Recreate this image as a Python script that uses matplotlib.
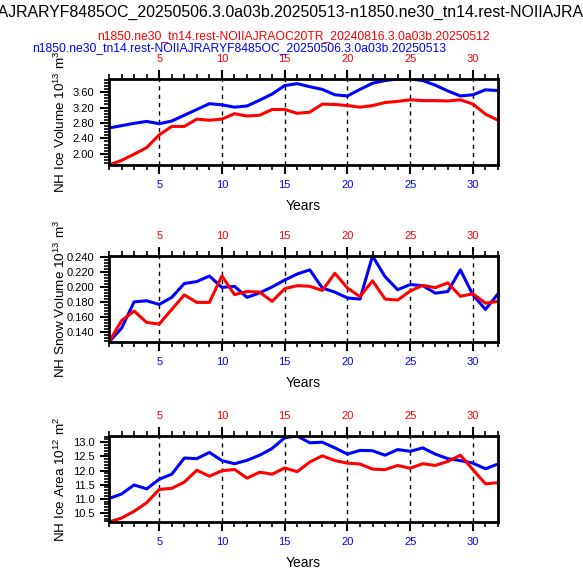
import numpy as np
import matplotlib
matplotlib.use("Agg")
import matplotlib.pyplot as plt
from matplotlib.ticker import MultipleLocator

plt.rcParams['font.family'] = ['Liberation Sans', 'DejaVu Sans']
plt.rcParams['mathtext.default'] = 'regular'

years = np.arange(1, 33)

ice_vol_blue = [2.67, 2.73, 2.79, 2.84, 2.78, 2.85, 3.00, 3.15, 3.30, 3.27, 3.21, 3.24, 3.39, 3.55, 3.77, 3.82,
                3.74, 3.67, 3.53, 3.50, 3.67, 3.83, 3.90, 3.94, 3.94, 3.90, 3.78, 3.63, 3.50, 3.53, 3.66, 3.64]
ice_vol_red = [1.71, 1.83, 1.99, 2.16, 2.49, 2.71, 2.71, 2.90, 2.87, 2.90, 3.04, 2.98, 3.00, 3.15, 3.15, 3.05,
               3.08, 3.29, 3.28, 3.25, 3.21, 3.25, 3.33, 3.36, 3.40, 3.38, 3.38, 3.37, 3.40, 3.29, 3.03, 2.87]

snow_blue = [0.1267, 0.145, 0.180, 0.1815, 0.1766, 0.186, 0.2044, 0.207, 0.2144, 0.1993, 0.2007, 0.186, 0.192,
             0.1999, 0.209, 0.2171, 0.2226, 0.1985, 0.193, 0.1852, 0.1838, 0.241, 0.2135, 0.1962, 0.203, 0.2016,
             0.1916, 0.1938, 0.2226, 0.1893, 0.170, 0.1907]
snow_red = [0.1267, 0.155, 0.1678, 0.1527, 0.1505, 0.170, 0.1893, 0.1793, 0.1793, 0.2144, 0.1897, 0.1938, 0.193,
            0.1807, 0.1975, 0.2016, 0.2007, 0.1952, 0.2181, 0.1985, 0.187, 0.208, 0.1838, 0.1825, 0.1944, 0.202,
            0.1989, 0.2053, 0.1875, 0.1907, 0.1783, 0.1807]

area_blue = [11.01, 11.17, 11.49, 11.35, 11.69, 11.87, 12.44, 12.42, 12.64, 12.35, 12.24, 12.36, 12.54, 12.78,
             13.16, 13.22, 12.98, 13.00, 12.80, 12.58, 12.71, 12.70, 12.54, 12.74, 12.68, 12.80, 12.58, 12.42,
             12.35, 12.26, 12.06, 12.23]
area_red = [10.18, 10.32, 10.56, 10.86, 11.33, 11.37, 11.59, 12.01, 11.80, 11.99, 12.04, 11.73, 11.94, 11.87,
            12.09, 11.96, 12.30, 12.52, 12.35, 12.26, 12.23, 12.05, 12.03, 12.18, 12.08, 12.24, 12.18, 12.32,
            12.54, 12.03, 11.53, 11.57]

case_blue = "n1850.ne30_tn14.rest-NOIIAJRARYF8485OC_20250506.3.0a03b.20250513"
case_red = "n1850.ne30_tn14.rest-NOIIAJRAOC20TR_20240816.3.0a03b.20250512"
title = case_blue + "-" + case_red

panels = [
    (ice_vol_blue, ice_vol_red, "NH Ice Volume 10$^{13}$ m$^3$", 0.4, 0.08, "%.2f", 165),
    (snow_blue, snow_red, "NH Snow Volume 10$^{13}$ m$^3$", 0.02, 0.004, "%.3f", 342),
    (area_blue, area_red, "NH Ice Area 10$^{12}$ m$^2$", 0.5, 0.1, "%.1f", 522),
]

W, H = 583, 571
fig = plt.figure(figsize=(W / 100, H / 100), dpi=100)

# the long title runs past both edges, as in the original
fig.text(-194 / W, 1 - 17 / H, title, fontsize=11.4, ha='left', va='baseline')
fig.text(293.5 / W, 1 - 39 / H, case_red, fontsize=8.7, color='red', ha='center', va='baseline')
fig.text(32 / W, 1 - 51 / H, case_blue, fontsize=8.7, color='blue', ha='left', va='baseline')

for blue, red, ylab, major, minor, fmt, bottom_px in panels:
    ax = fig.add_axes([109 / W, 1 - bottom_px / H, 389 / W, 86 / H])
    for xv in range(5, 31, 5):
        ax.axvline(xv, color='black', linestyle=(0, (3, 3)), linewidth=1)
    ax.plot(years, blue, color='blue', linewidth=2.2)
    ax.plot(years, red, color='red', linewidth=2.2)
    ax.set_xlim(1, 32)
    ax.set_ylim(min(min(blue), min(red)), max(max(blue), max(red)))

    ax.xaxis.set_major_locator(MultipleLocator(5))
    ax.xaxis.set_minor_locator(MultipleLocator(1))
    ax.yaxis.set_major_locator(MultipleLocator(major))
    ax.yaxis.set_minor_locator(MultipleLocator(minor))
    ax.yaxis.set_major_formatter(matplotlib.ticker.FormatStrFormatter(fmt))
    ax.tick_params(axis='both', which='major', direction='out', length=6.5, width=1.5,
                   labelsize=8, pad=4)
    ax.tick_params(axis='both', which='minor', direction='out', length=3.6, width=1.2)
    ax.tick_params(axis='x', top=True, which='both', labelcolor='blue')
    ax.tick_params(axis='y', right=False, which='both')
    for s in ax.spines.values():
        s.set_linewidth(2)

    top = ax.secondary_xaxis('top')
    top.xaxis.set_major_locator(MultipleLocator(5))
    top.tick_params(axis='x', which='major', direction='out', length=0, labelsize=8,
                    labelcolor='red', pad=10.5)
    top.spines['top'].set_visible(False)

    ax.text(-0.126, 0.5, ylab, transform=ax.transAxes, rotation=90, ha='center', va='center',
            fontsize=9.7)
    ax.text(0.5, -0.477, "Years", transform=ax.transAxes, ha='center', va='center', fontsize=10)

fig.savefig("out.png", dpi=100)
